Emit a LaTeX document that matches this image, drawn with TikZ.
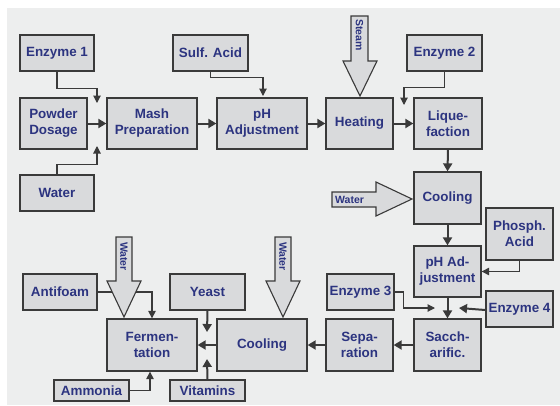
\documentclass[tikz,border=0pt]{standalone}
\usepackage{fontspec}
\setmainfont{Liberation Sans}
\usetikzlibrary{arrows.meta}
\definecolor{bgc}{HTML}{EDEEEE}
\definecolor{boxc}{HTML}{D9DADC}
\definecolor{edgec}{HTML}{3A3A3A}
\definecolor{txtc}{HTML}{2C3480}
\begin{document}
\begin{tikzpicture}[x=1pt,y=-1pt,
  box/.style={draw=edgec, fill=boxc, line width=1.3pt, rectangle, align=center,
    text=txtc, font=\fontsize{13.4}{16}\selectfont\bfseries, inner sep=0pt},
  thinarr/.style={draw=edgec, line width=1.1pt, -{Triangle[length=7.5pt,width=7.5pt]}},
  thickarr/.style={draw=edgec, line width=2pt, -{Triangle[length=8pt,width=9pt]}},
  fatarrow/.style={draw=edgec, fill=boxc, line width=1.1pt, line join=miter},
  smalltxt/.style={text=txtc, font=\fontsize{10.5}{12}\selectfont\bfseries, inner sep=0pt}
]
\useasboundingbox (0,0) rectangle (560,405);
\fill[white] (0,0) rectangle (560,405);
\fill[bgc] (7,8) rectangle (560,405);

% boxes
\node[box, minimum width=74pt, minimum height=36pt] (e1) at (57,53) {Enzyme 1};
\node[box, minimum width=67pt, minimum height=51pt] (powder) at (53.5,123.5) {Powder\\Dosage};
\node[box, minimum width=74pt, minimum height=36pt] (w1) at (57,193) {Water};
\node[box, minimum width=90pt, minimum height=51pt] (mash) at (152,123.5) {Mash\\Preparation};
\node[box, minimum width=75pt, minimum height=36pt] (sulf) at (210.5,53) {Sulf. Acid};
\node[box, minimum width=90pt, minimum height=51pt] (ph1) at (262,123.5) {pH\\Adjustment};
\node[box, minimum width=67pt, minimum height=51pt] (heat) at (359.5,123.5) {Heating};
\node[box, minimum width=75pt, minimum height=36pt] (e2) at (444.5,53) {Enzyme 2};
\node[box, minimum width=68pt, minimum height=51pt] (liq) at (448,123.5) {Lique-\\faction};
\node[box, minimum width=67pt, minimum height=52pt] (cool1) at (447.5,198) {Cooling};
\node[box, minimum width=67pt, minimum height=52pt] (phos) at (519.5,234) {Phosph.\\Acid};
\node[box, minimum width=67pt, minimum height=51pt] (ph2) at (447.5,271.5) {pH Ad-\\justment};
\node[box, minimum width=67pt, minimum height=36pt] (e3) at (360.5,292) {Enzyme 3};
\node[box, minimum width=67pt, minimum height=36pt] (e4) at (519.5,309) {Enzyme 4};
\node[box, minimum width=67pt, minimum height=52pt] (sacc) at (447.5,345) {Sacch-\\arific.};
\node[box, minimum width=67pt, minimum height=52pt] (sep) at (359.5,345) {Sepa-\\ration};
\node[box, minimum width=90pt, minimum height=52pt] (cool2) at (262,345) {Cooling};
\node[box, minimum width=90pt, minimum height=52pt] (ferm) at (152,345) {Fermen-\\tation};
\node[box, minimum width=74pt, minimum height=36pt] (anti) at (60,292) {Antifoam};
\node[box, minimum width=75pt, minimum height=36pt] (yeast) at (207.5,292) {Yeast};
\node[box, minimum width=75pt, minimum height=21pt] (amm) at (91.5,390.5) {Ammonia};
\node[box, minimum width=75pt, minimum height=21pt] (vit) at (207.5,390.5) {Vitamins};

% arrow end points
\coordinate (e1t) at (97,103);
\coordinate (w1t) at (97,146);
\coordinate (sulft) at (263,96);
\coordinate (e2t) at (404,105);
\coordinate (e3t) at (435,308);
\coordinate (e4t) at (459,308);
\coordinate (yt) at (207,332);
\coordinate (vt) at (207,359);

% thin connectors
\draw[thinarr] (e1.south) -- ++(0,17) -| (e1t);
\draw[thinarr] (w1.north) -- ++(0,-10) -| (w1t);
\draw[thinarr] (sulf.south) -- ++(0,6) -| (sulft);
\draw[thinarr] (e2.south) -- ++(0,16) -| (e2t);
\draw[thinarr] (phos.south) |- (ph2.east);
\draw[thinarr] (e3.east) -- ++(9,0) |- (e3t);
\draw[thinarr] (anti.east) -| (ferm.north);
\draw[thinarr] (amm.east) -| ([xshift=-2pt]ferm.south);

% thick connectors
\draw[thickarr] (powder.east) -- (mash.west);
\draw[thickarr] (mash.east) -- (ph1.west);
\draw[thickarr] (ph1.east) -- (heat.west);
\draw[thickarr] (heat.east) -- (liq.west);
\draw[thickarr] (liq.south) -- (cool1.north);
\draw[thickarr] (cool1.south) -- (ph2.north);
\draw[thickarr] (ph2.south) -- (sacc.north);
\draw[thickarr] ([yshift=-1pt]e4.west) -- (e4t);
\draw[thickarr] (sacc.west) -- (sep.east);
\draw[thickarr] (sep.west) -- (cool2.east);
\draw[thickarr] (cool2.west) -- (ferm.east);
\draw[thickarr] (yeast.south) -- (yt);
\draw[thickarr] (vit.north) -- (vt);

% fat arrows
\draw[fatarrow] (351,16) -- (368,16) -- (368,61) -- (377,61) -- (360,96) -- (343,61) -- (351,61) -- cycle;
\node[smalltxt, rotate=-90] (steam) at (359.5,35) {Steam};

\draw[fatarrow] (332,192) -- (376,192) -- (376,182) -- (412,199) -- (376,216) -- (376,207) -- (332,207) -- cycle;
\node[smalltxt, anchor=west] (wr) at (335,200) {Water};

\draw[fatarrow] (116,237) -- (132,237) -- (132,281) -- (141,281) -- (124,317) -- (107,281) -- (116,281) -- cycle;
\node[smalltxt, rotate=-90] (wf) at (124,256.5) {Water};

\draw[fatarrow] (275,237) -- (291,237) -- (291,281) -- (300,281) -- (283,317) -- (266,281) -- (275,281) -- cycle;
\node[smalltxt, rotate=-90] (wc) at (283,256.5) {Water};
\end{tikzpicture}
\end{document}
